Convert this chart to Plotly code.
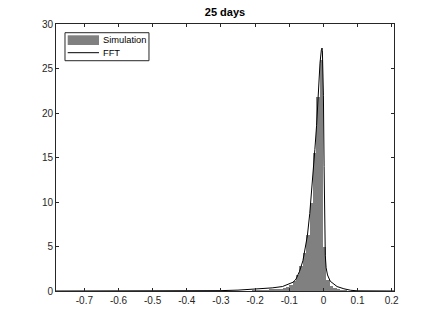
import plotly.graph_objects as go

# Histogram (Simulation) - bin centers and heights (pdf)
bin_width = 0.0099
bin_centers = [-0.2039, -0.1940, -0.1841, -0.1742, -0.1643, -0.1544, -0.1445, -0.1346,
               -0.1247, -0.1148, -0.1049, -0.0950, -0.0851, -0.0752, -0.0653, -0.0554,
               -0.0455, -0.0356, -0.0257, -0.0158, -0.0059, 0.0040, 0.0139, 0.0238,
               0.0337, 0.0436, 0.0535, 0.0634]
sim_values = [0.04, 0.05, 0.06, 0.08, 0.10, 0.12, 0.15, 0.20,
              0.25, 0.35, 0.50, 0.70, 1.10, 1.80, 2.80, 4.30,
              6.30, 9.90, 15.5, 21.8, 26.0, 5.0, 1.2, 0.6,
              0.3, 0.15, 0.1, 0.05]

# FFT density curve
fft_x = [-0.783, -0.5, -0.4, -0.3, -0.25, -0.2, -0.15, -0.12, -0.1, -0.088, -0.08,
         -0.07, -0.06, -0.054, -0.047, -0.04, -0.035, -0.03, -0.025, -0.02, -0.015,
         -0.01, -0.006, -0.004, -0.003, 0.0, 0.002, 0.004, 0.0055, 0.008, 0.012,
         0.02, 0.03, 0.04, 0.06, 0.08, 0.1, 0.15, 0.2067]
fft_y = [0.0, 0.0, 0.01, 0.04, 0.1, 0.2, 0.35, 0.5, 0.8, 1.0, 1.35,
         2.2, 3.4, 4.6, 6.2, 8.7, 10.8, 13.2, 15.9, 18.6, 22.4,
         25.6, 27.1, 27.3, 27.0, 22.0, 14.0, 7.0, 4.0, 2.6, 1.8,
         1.1, 0.8, 0.5, 0.25, 0.08, 0.02, 0.0, 0.0]

series_names = ["Simulation", "FFT"]
x_ticks = [-0.7, -0.6, -0.5, -0.4, -0.3, -0.2, -0.1, 0, 0.1, 0.2]
x_labels = ["-0.7", "-0.6", "-0.5", "-0.4", "-0.3", "-0.2", "-0.1", "0", "0.1", "0.2"]
y_ticks = [0, 5, 10, 15, 20, 25, 30]

FONT = "Liberation Sans, Arial, sans-serif"
BAR_COLOR = "rgb(128,128,128)"
AX_COLOR = "rgb(38,38,38)"

fig = go.Figure()
fig.add_trace(go.Bar(
    x=bin_centers, y=sim_values, width=bin_width, name=series_names[0],
    marker=dict(color=BAR_COLOR, line=dict(width=0)),
))
fig.add_trace(go.Scatter(
    x=fft_x, y=fft_y, mode="lines", name=series_names[1],
    line=dict(color="black", width=1),
))

axis_common = dict(
    showline=True, linecolor=AX_COLOR, linewidth=1, mirror="ticks",
    ticks="inside", ticklen=3, tickcolor=AX_COLOR, showgrid=False, zeroline=False,
    tickfont=dict(family=FONT, size=10, color=AX_COLOR),
)

# custom MATLAB-style legend box
shapes = [
    dict(type="rect", xref="paper", yref="paper", x0=0.0266, x1=0.2751, y0=0.8625, y1=0.9674,
         line=dict(color=AX_COLOR, width=1), fillcolor="white", layer="above"),
    dict(type="rect", xref="paper", yref="paper", x0=0.0346, x1=0.1272, y0=0.9213, y1=0.9577,
         line=dict(width=0), fillcolor=BAR_COLOR, layer="above"),
    dict(type="line", xref="paper", yref="paper", x0=0.0346, x1=0.1272, y0=0.8925, y1=0.8925,
         line=dict(color="black", width=1), layer="above"),
]
annotations = [
    dict(text=series_names[0], xref="paper", yref="paper", x=0.1322, y=0.9395,
         xanchor="left", yanchor="middle", showarrow=False,
         font=dict(family=FONT, size=9.3, color="black")),
    dict(text=series_names[1], xref="paper", yref="paper", x=0.1322, y=0.8925,
         xanchor="left", yanchor="middle", showarrow=False,
         font=dict(family=FONT, size=9.3, color="black")),
]

fig.update_layout(
    width=436, height=327,
    margin=dict(l=56, r=42, t=24, b=36),
    paper_bgcolor="white", plot_bgcolor="white",
    bargap=0,
    title=dict(text="<b>25 days</b>", x=0.516, xanchor="center", y=0.962, yanchor="middle",
               font=dict(family=FONT, size=11, color="black")),
    xaxis=dict(range=[-0.783, 0.2067], tickvals=x_ticks, ticktext=x_labels, **axis_common),
    yaxis=dict(range=[0, 30], tickvals=y_ticks, **axis_common),
    showlegend=False,
    shapes=shapes,
    annotations=annotations,
)

fig.write_html("out.html", config={"displayModeBar": False},
               post_script="document.body.style.margin='0';")
